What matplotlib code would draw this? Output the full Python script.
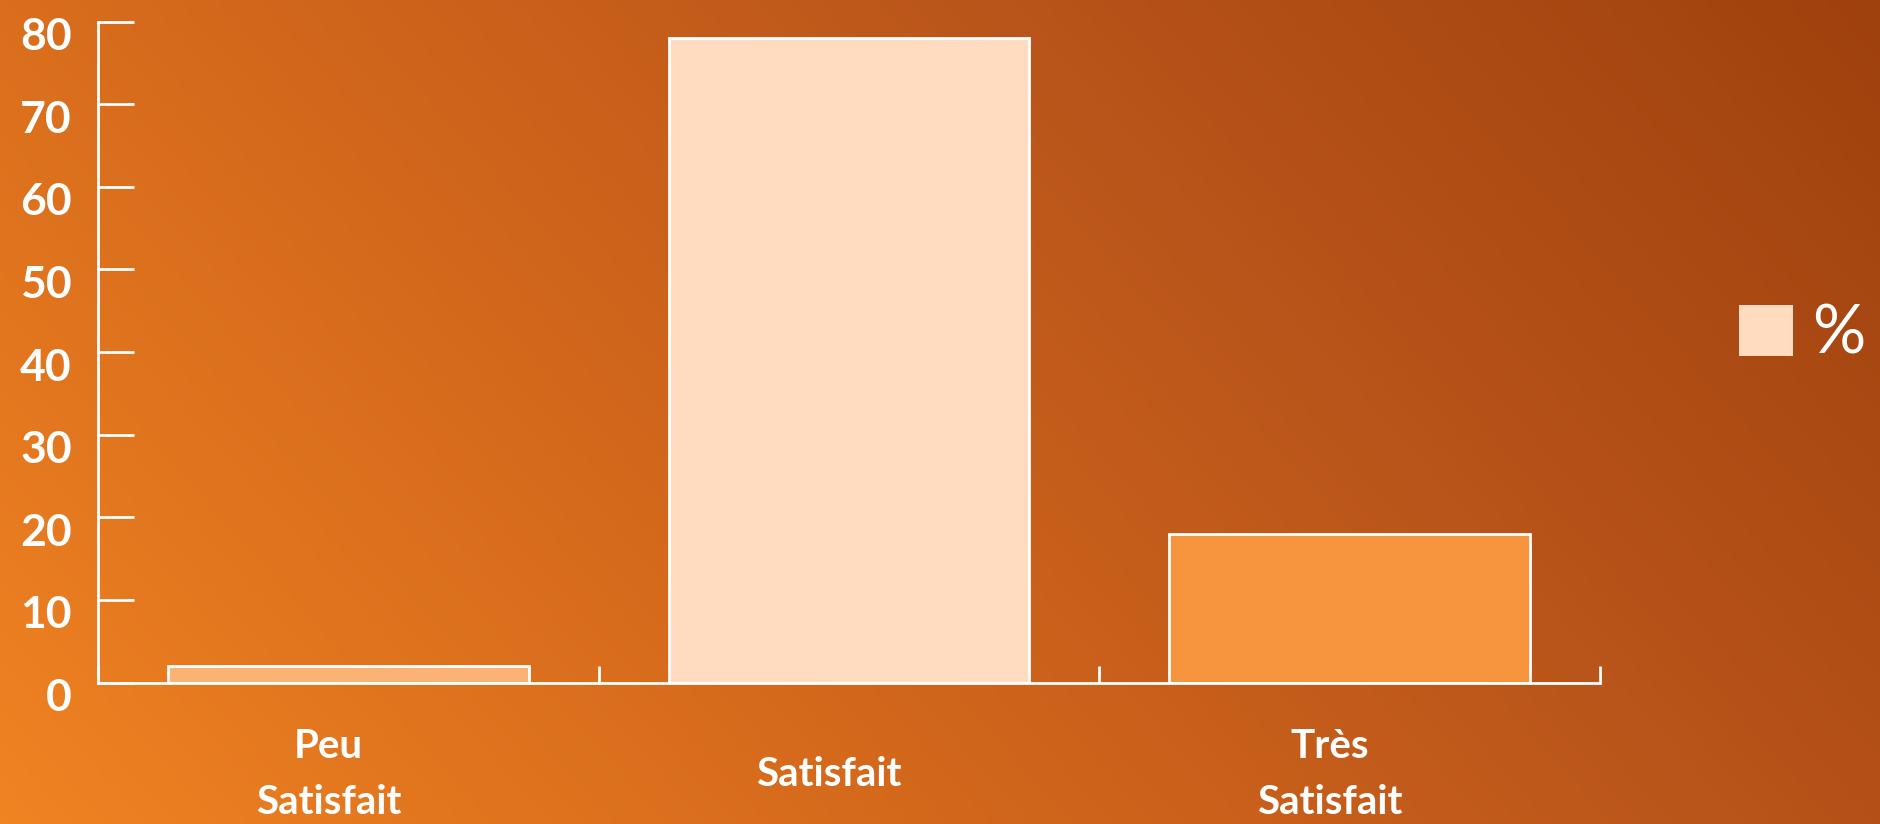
import matplotlib
matplotlib.use("Agg")
import matplotlib.pyplot as plt
import numpy as np
from matplotlib.colors import LinearSegmentedColormap
from matplotlib.transforms import ScaledTranslation
from matplotlib.patches import Patch

categories = ["Peu\nSatisfait", "Satisfait", "Très\nSatisfait"]
values = [2, 78, 18]
bar_colors = ["#FBB275", "#FFDCBF", "#F7953F"]
series_name = "%"
yticks = [0, 10, 20, 30, 40, 50, 60, 70, 80]

plt.rcParams['font.family'] = ['Lato', 'DejaVu Sans']

W, H = 18.81, 8.24
fig = plt.figure(figsize=(W, H), dpi=100)

# background gradient
bg = fig.add_axes([0, 0, 1, 1], zorder=0)
nx, ny = 400, 200
xx, yy = np.meshgrid(np.linspace(0, 1, nx), np.linspace(0, 1, ny))
t = 0.72 * xx + 0.28 * yy
cmap = LinearSegmentedColormap.from_list("g", ["#F08322", "#D56A1C", "#B9541A", "#9F410D"])
bg.imshow(t, cmap=cmap, origin="lower", extent=[0, 1, 0, 1], aspect="auto", vmin=0, vmax=1)
bg.set_axis_off()

ax = fig.add_axes([0.0521, 0.1716, 0.8506 - 0.0521, 0.9738 - 0.1716], zorder=1)
ax.patch.set_alpha(0)
x = np.arange(len(categories))
ax.bar(x, values, width=0.72, color=bar_colors, edgecolor="white", linewidth=2)
ax.set_xlim(-0.5, len(categories) - 0.5)
ax.set_ylim(0, 80)

for s in ["top", "right"]:
    ax.spines[s].set_visible(False)
for s in ["left", "bottom"]:
    ax.spines[s].set_color("white")
    ax.spines[s].set_linewidth(2)

ax.set_yticks(yticks)
ax.set_yticklabels([str(v) for v in yticks])
ax.tick_params(axis="y", direction="in", length=26, width=2, color="white",
               labelcolor="white", labelsize=32, pad=19)
for lab in ax.get_yticklabels():
    lab.set_fontweight("bold")
    lab.set_transform(lab.get_transform() + ScaledTranslation(0, -0.12, fig.dpi_scale_trans))

ax.set_xticks(np.arange(len(categories) + 1) - 0.5)
ax.set_xticklabels([])
ax.tick_params(axis="x", which="major", direction="in", length=12, width=2, color="white")
ax.set_xticks(x, minor=True)
ax.set_xticklabels(categories, minor=True)
ax.tick_params(axis="x", which="minor", length=0, labelcolor="white", labelsize=29, pad=66)
for lab in ax.get_xticklabels(minor=True):
    lab.set_fontweight("bold")
    lab.set_va("center")
    lab.set_linespacing(1.62)
    lab.set_transform(lab.get_transform() + ScaledTranslation(-0.2, 0, fig.dpi_scale_trans))

leg = fig.legend(handles=[Patch(facecolor=bar_colors[1], edgecolor="none", label=series_name)],
                 loc="center left", bbox_to_anchor=(0.9246, 0.594), frameon=False,
                 borderpad=0, borderaxespad=0,
                 handlelength=0.8, handleheight=0.8, handletextpad=0.3,
                 prop={"size": 48})
for txt in leg.get_texts():
    txt.set_color("white")

fig.savefig("out.png", dpi=100)
